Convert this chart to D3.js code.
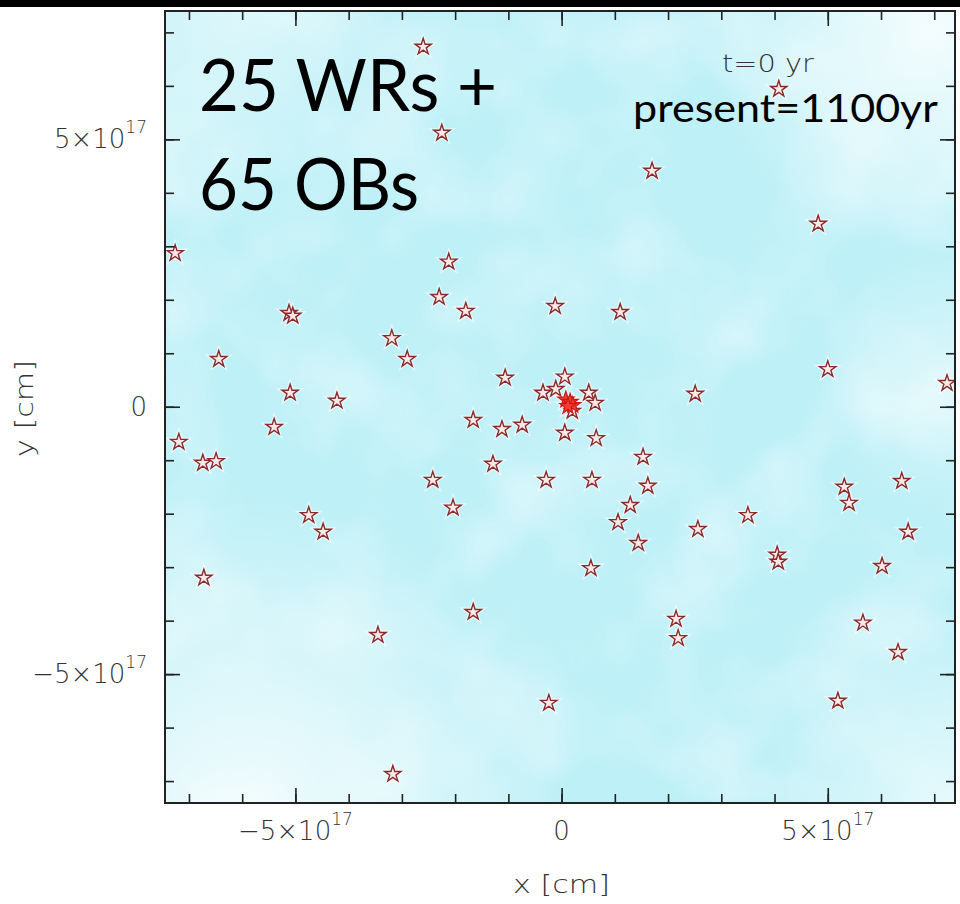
<!DOCTYPE html>
<html>
<head>
<meta charset="utf-8">
<script src="https://cdn.jsdelivr.net/npm/d3@7"></script>
<style>
  html, body { margin: 0; padding: 0; background: #ffffff; }
  svg { display: block; }
</style>
</head>
<body>
<svg id="chart" width="960" height="904"></svg>
<script>
// Star positions, in units of 1e17 cm
const starX = [
  -2.60, 4.08, -2.25, 1.70, 4.82, -7.26, -2.12, -2.30, -1.80, -0.12,
  1.10, -5.12, -5.05, -3.19, -2.90, -6.44, 5.00, 7.24, -1.06, -5.10,
  -4.22, 0.06, -0.35, -0.11, 0.51, 0.63, 2.51, -5.40, -7.19, -6.74,
  -6.49, -1.66, -1.12, -0.74, 0.06, 0.65, -1.29, 1.53, -2.42, -0.29,
  0.57, 1.62, -2.04, 1.29, 1.06, 2.56, 3.50, 1.44, -4.75, -4.48,
  5.31, 5.40, 6.39, 6.51, 4.05, 4.07, 6.02, 0.55, -6.72, -1.66,
  -3.45, 2.15, 2.19, 5.66, 6.32, 5.19, -0.24, -3.17, 0.20
];
const starY = [
  6.73, 5.94, 5.12, 4.41, 3.42, 2.87, 2.71, 2.05, 1.79, 1.88,
  1.77, 1.75, 1.70, 1.28, 0.89, 0.89, 0.70, 0.44, 0.54, 0.26,
  0.11, 0.56, 0.26, 0.33, 0.26, 0.07, 0.24, -0.38, -0.66, -1.05,
  -1.02, -0.25, -0.42, -0.34, -0.49, -0.59, -1.07, -0.94, -1.37, -1.37,
  -1.37, -1.48, -1.89, -1.84, -2.16, -2.29, -2.03, -2.55, -2.03, -2.34,
  -1.50, -1.80, -1.39, -2.34, -2.77, -2.90, -2.98, -3.02, -3.20, -3.84,
  -4.27, -3.97, -4.33, -4.04, -4.59, -5.50, -5.54, -6.87, -0.08
];
// Crowded stars at the cluster core
const coreX = [0.08, 0.16, 0.21, 0.12];
const coreY = [0.13, 0.09, 0.03, 0.01];

// Axis ticks (units of 1e17 cm)
const minorTicks = [-7, -6, -5, -4, -3, -2, -1, 0, 1, 2, 3, 4, 5, 6, 7];
const majorTicks = [-5, 0, 5];
const tickBase = ["\u22125\u00d710", "0", "5\u00d710"];
const tickExp = ["17", "", "17"];

const xTitle = "x [cm]";
const yTitle = "y [cm]";
const timeLabel = "t=0 yr";
const presentLabel = "present=1100yr";
const countLines = ["25 WRs +", "65 OBs"];

const svg = d3.select("#chart");
const pL = 165, pR = 955, pT = 11, pB = 803;

const x = d3.scaleLinear().domain([-7.45, 7.39]).range([pL, pR]);
const y = d3.scaleLinear().domain([-7.41, 7.40]).range([pB, pT]);

// top black band
svg.append("rect").attr("x", 0).attr("y", 0).attr("width", 960).attr("height", 7).attr("fill", "#000");

const defs = svg.append("defs");
defs.append("clipPath").attr("id", "plotClip")
  .append("rect").attr("x", pL).attr("y", pT).attr("width", pR - pL).attr("height", pB - pT);

const cloud = defs.append("filter").attr("id", "cloud")
  .attr("x", 0).attr("y", 0).attr("width", "100%").attr("height", "100%");
cloud.append("feTurbulence").attr("type", "fractalNoise").attr("baseFrequency", "0.009")
  .attr("numOctaves", 3).attr("seed", 11).attr("result", "noise");
cloud.append("feColorMatrix").attr("in", "noise").attr("type", "matrix")
  .attr("values", "0 0 0 0 1  0 0 0 0 1  0 0 0 0 1  2.0 0 0 0 -0.8");
cloud.append("feGaussianBlur").attr("stdDeviation", 3);

function fade(id, cx, cy, r, op) {
  const g = defs.append("radialGradient").attr("id", id)
    .attr("gradientUnits", "userSpaceOnUse").attr("cx", cx).attr("cy", cy).attr("r", r);
  g.append("stop").attr("offset", 0).attr("stop-color", "#fff").attr("stop-opacity", op);
  g.append("stop").attr("offset", 1).attr("stop-color", "#fff").attr("stop-opacity", 0);
}
fade("fadeLL", 250, 810, 320, 0.8);
fade("fadeTR", 930, 30, 230, 0.85);
fade("fadeBR", 950, 800, 200, 0.6);
fade("fadeR", 950, 380, 140, 0.45);
fade("fadeTL", 230, 30, 200, 0.45);

const bg = svg.append("g").attr("clip-path", "url(#plotClip)");
bg.append("rect").attr("x", pL).attr("y", pT).attr("width", pR - pL).attr("height", pB - pT)
  .attr("fill", "#bdf0f7");
bg.append("rect").attr("x", pL).attr("y", pT).attr("width", pR - pL).attr("height", pB - pT)
  .attr("filter", "url(#cloud)").attr("opacity", 0.45);
["fadeLL", "fadeTR", "fadeBR", "fadeR", "fadeTL"].forEach(id => {
  bg.append("rect").attr("x", pL).attr("y", pT).attr("width", pR - pL).attr("height", pB - pT)
    .attr("fill", `url(#${id})`);
});

// stars
const star = d3.symbol().type(d3.symbolStar).size(82);
const stars = starX.map((v, i) => ({ x: v, y: starY[i] }));
const core = coreX.map((v, i) => ({ x: v, y: coreY[i] }));

const sg = svg.append("g").attr("clip-path", "url(#plotClip)");
sg.selectAll("path.halo").data(stars.concat(core)).join("path")
  .attr("class", "halo")
  .attr("transform", d => `translate(${x(d.x)},${y(d.y)})`)
  .attr("d", star)
  .attr("fill", "none").attr("stroke", "#ffffff").attr("stroke-width", 4).attr("stroke-opacity", 0.55);
sg.selectAll("path.star").data(stars).join("path")
  .attr("class", "star")
  .attr("transform", d => `translate(${x(d.x)},${y(d.y)})`)
  .attr("d", star)
  .attr("fill", "#fde9e9").attr("stroke", "#8c2a2a").attr("stroke-width", 1.4);
sg.selectAll("path.core").data(core).join("path")
  .attr("class", "core")
  .attr("transform", d => `translate(${x(d.x)},${y(d.y)})`)
  .attr("d", star)
  .attr("fill", "#f04030").attr("stroke", "#d01818").attr("stroke-width", 1.2);

// axes: inward ticks on all four sides
function styleAxis(g) {
  g.select(".domain").remove();
  g.selectAll(".tick line").attr("stroke", "#222").attr("stroke-width", 1.6);
}
const axes = [
  [d3.axisBottom(x), `translate(0,${pB})`],
  [d3.axisTop(x), `translate(0,${pT})`],
  [d3.axisLeft(y), `translate(${pL},0)`],
  [d3.axisRight(y), `translate(${pR},0)`]
];
axes.forEach(([ax, tr]) => {
  svg.append("g").attr("transform", tr)
    .call(ax.tickValues(minorTicks).tickSize(-9).tickSizeOuter(0).tickFormat(""))
    .call(styleAxis);
  svg.append("g").attr("transform", tr)
    .call(ax.tickValues(majorTicks).tickSize(-15).tickSizeOuter(0).tickFormat(""))
    .call(styleAxis);
});

svg.append("rect").attr("x", pL).attr("y", pT).attr("width", pR - pL).attr("height", pB - pT)
  .attr("fill", "none").attr("stroke", "#222").attr("stroke-width", 2);

// tick labels
const lab = svg.append("g").attr("font-family", "DejaVu Sans").attr("font-weight", 200).attr("fill", "#333");
majorTicks.forEach((v, i) => {
  const tx = lab.append("text").attr("x", x(v)).attr("y", 840)
    .attr("text-anchor", "middle").attr("font-size", 26);
  tx.append("tspan").text(tickBase[i]);
  if (tickExp[i]) tx.append("tspan").attr("dy", -15).attr("font-size", 17).text(tickExp[i]);

  const ty = lab.append("text").attr("x", 147).attr("y", y(v) + 9)
    .attr("text-anchor", "end").attr("font-size", 26);
  ty.append("tspan").text(tickBase[i]);
  if (tickExp[i]) ty.append("tspan").attr("dy", -15).attr("font-size", 17).text(tickExp[i]);
});

lab.append("text").attr("x", 513).attr("y", 893)
  .attr("font-size", 25).attr("textLength", 97).attr("lengthAdjust", "spacingAndGlyphs").text(xTitle);
lab.append("text").attr("transform", "translate(33,457) rotate(-90)")
  .attr("font-size", 25).attr("textLength", 97).attr("lengthAdjust", "spacingAndGlyphs").text(yTitle);

lab.append("text").attr("x", 722).attr("y", 72).attr("font-size", 24)
  .attr("textLength", 92).attr("lengthAdjust", "spacingAndGlyphs").text(timeLabel);

// annotations
const ann = svg.append("g").attr("font-family", "Lato, 'Open Sans', sans-serif").attr("fill", "#000");
ann.append("text").attr("x", 633).attr("y", 122).attr("font-size", 38)
  .attr("textLength", 305).attr("lengthAdjust", "spacingAndGlyphs").text(presentLabel);
ann.append("text").attr("x", 199).attr("y", 111).attr("font-size", 72)
  .attr("textLength", 298).attr("lengthAdjust", "spacingAndGlyphs").text(countLines[0]);
ann.append("text").attr("x", 199).attr("y", 210).attr("font-size", 72)
  .attr("textLength", 220).attr("lengthAdjust", "spacingAndGlyphs").text(countLines[1]);
</script>
</body>
</html>
